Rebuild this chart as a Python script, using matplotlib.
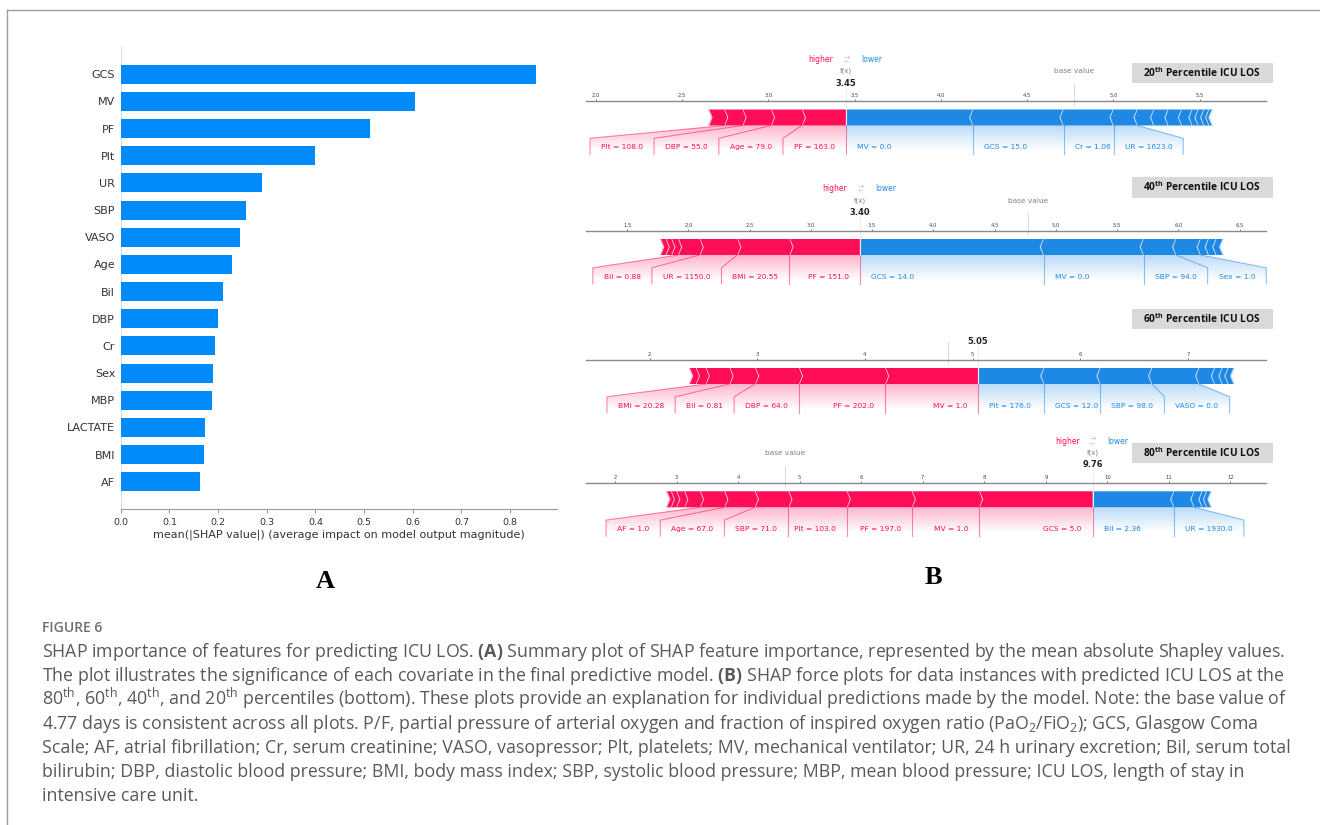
import numpy as np
import matplotlib
matplotlib.use('Agg')
import matplotlib.pyplot as plt
from matplotlib.patches import Polygon, PathPatch, Rectangle
from matplotlib.path import Path
from matplotlib.colors import LinearSegmentedColormap
from matplotlib.lines import Line2D

plt.rcParams['font.family'] = 'DejaVu Sans'
plt.rcParams['mathtext.fontset'] = 'custom'
plt.rcParams['mathtext.rm'] = 'Open Sans'
plt.rcParams['mathtext.bf'] = 'Open Sans:bold'

W, H = 1320, 825

# ---- panel A: mean |SHAP| ----
features = ['GCS', 'MV', 'PF', 'Plt', 'UR', 'SBP', 'VASO', 'Age', 'Bil', 'DBP',
            'Cr', 'Sex', 'MBP', 'LACTATE', 'BMI', 'AF']
mean_abs_shap = [0.853, 0.605, 0.512, 0.399, 0.291, 0.258, 0.246, 0.229, 0.211,
                 0.199, 0.193, 0.189, 0.188, 0.173, 0.171, 0.162]

# ---- panel B: force plots ----
base_value = 4.77
percentiles = ['20', '40', '60', '80']
fx_values = [3.45, 3.40, 5.05, 9.76]

p20_pos = ['PF = 163.0', 'Age = 79.0', 'DBP = 55.0', 'Plt = 108.0', '']
p20_pos_eff = [0.255, 0.179, 0.165, 0.106, 0.091]
p20_neg = ['MV = 0.0', 'GCS = 15.0', 'Cr = 1.06', 'UR = 1623.0', '', '', '', '', '', '', '', '']
p20_neg_eff = [0.738, 0.523, 0.290, 0.139, 0.096, 0.083, 0.078, 0.061, 0.035, 0.033, 0.029, 0.019]

p40_pos = ['PF = 151.0', 'BMI = 20.55', 'UR = 1150.0', 'Bil = 0.88', '', '', '']
p40_pos_eff = [0.575, 0.426, 0.307, 0.176, 0.055, 0.047, 0.044]
p40_neg = ['GCS = 14.0', 'MV = 0.0', 'SBP = 94.0', 'Sex = 1.0', '', '', '']
p40_neg_eff = [1.502, 0.815, 0.265, 0.200, 0.066, 0.062, 0.056]

p60_pos = ['MV = 1.0', 'PF = 202.0', 'DBP = 64.0', 'Bil = 0.81', 'BMI = 20.28', '', '']
p60_pos_eff = [0.862, 0.800, 0.407, 0.238, 0.221, 0.092, 0.062]
p60_neg = ['Plt = 176.0', 'GCS = 12.0', 'SBP = 98.0', 'VASO = 0.0', '', '', '', '']
p60_neg_eff = [0.616, 0.521, 0.480, 0.437, 0.146, 0.070, 0.055, 0.054]

p80_pos = ['GCS = 5.0', 'MV = 1.0', 'PF = 197.0', 'Plt = 103.0', 'SBP = 71.0',
           'Age = 67.0', 'AF = 1.0', '', '', '', '']
p80_pos_eff = [1.844, 1.094, 1.057, 0.947, 0.546, 0.496, 0.395, 0.255, 0.130, 0.088, 0.073]
p80_neg = ['Bil = 2.36', 'UR = 1930.0', '', '', '']
p80_neg_eff = [1.327, 0.327, 0.131, 0.073, 0.073]

force_data = [(p20_pos, p20_pos_eff, p20_neg, p20_neg_eff),
              (p40_pos, p40_pos_eff, p40_neg, p40_neg_eff),
              (p60_pos, p60_pos_eff, p60_neg, p60_neg_eff),
              (p80_pos, p80_pos_eff, p80_neg, p80_neg_eff)]
x_ranges = [(1.944, 5.884), (1.164, 6.715), (1.410, 7.724), (1.529, 12.577)]
axis_tops = [101.5, 231, 360, 483.3]

RED, BLUE = '#FF0D57', '#1E88E5'

fig = plt.figure(figsize=(13.2, 8.25), dpi=100)
renderer = fig.canvas.get_renderer()

# frame
fig.add_artist(Line2D([7 / W, 1], [1 - 10 / H, 1 - 10 / H], color='#9a9a9a', lw=1))
fig.add_artist(Line2D([7 / W, 7 / W], [0, 1 - 10 / H], color='#9a9a9a', lw=1))

# ---- A ----
axA = fig.add_axes([120.7 / W, 1 - 509 / H, 436 / W, 462 / H])
ypos = np.arange(len(features))[::-1]
axA.barh(ypos, mean_abs_shap, 0.7, color='#008bfb', align='center')
axA.set_yticks(ypos, features)
axA.set_ylim(-1, len(features))
axA.axvline(0, color='#dddddd', lw=1, zorder=-1)
for k in ['top', 'right', 'left']:
    axA.spines[k].set_visible(False)
axA.spines['bottom'].set_color('#999999')
axA.tick_params(axis='y', length=0, labelsize=8, labelcolor='#333333', pad=4)
axA.tick_params(axis='x', labelsize=6.8, labelcolor='#333333', color='#999999', length=3)
axA.set_xlabel('mean(|SHAP value|) (average impact on model output magnitude)',
               fontsize=8, color='#333333', labelpad=2)


def force_plot(ax, fx, pos_lab, pos_eff, neg_lab, neg_eff, xr, full_header):
    ax.set_xlim(*xr)
    ax.set_ylim(-0.5, 0.15)
    ax.set_facecolor('none')
    ax.locator_params(axis='x', nbins=12)
    ax.tick_params(top=True, bottom=False, left=False, right=False, labelleft=False,
                   labeltop=True, labelbottom=False, labelsize=3.8, length=1.5,
                   width=0.5, pad=1, colors='#444444')
    for k, sp in ax.spines.items():
        sp.set_visible(k == 'top')
    ax.spines['top'].set_color('#8a8a8a')
    ax.spines['top'].set_linewidth(1)

    px = (xr[1] - xr[0]) / ax.get_window_extent().width   # data units per pixel
    wsep = (xr[1] - xr[0]) / 200
    wb = 0.1
    g = 11 * px
    pad = 1.5 * px

    # base value / output lines
    ax.plot([base_value, base_value], [0.13, 0.26], lw=0.8, color='#dcdcdc', clip_on=False)
    ax.plot([fx, fx], [0, 0.24], lw=0.8, color='#eeeeee', clip_on=False)
    ax.text(fx, 0.265, '{0:.2f}'.format(fx), fontsize=6, fontweight='bold',
            ha='center', va='center', color='#222222')
    if full_header:
        ax.text(base_value, 0.34, 'base value', fontsize=5.3, alpha=0.5, ha='center', va='center')
        ax.text(fx, 0.34, 'f(x)', fontsize=5, alpha=0.5, ha='center', va='center')
        ax.text(fx - 13 * px, 0.413, 'higher', fontsize=5.5, color=RED, ha='right', va='center')
        ax.text(fx + 15 * px, 0.413, 'lower', fontsize=5.5, color=BLUE, ha='left', va='center')
        ax.text(fx, 0.428, r'$\rightarrow$', fontsize=4.3, color=RED, ha='center', va='center')
        ax.text(fx, 0.400, r'$\leftarrow$', fontsize=4.3, color=BLUE, ha='center', va='center')

    for sign, labels, effs, col, sepcol, rgb in [
            (1, pos_lab, pos_eff, RED, '#FFC3D5', (1, 13 / 255, 87 / 255)),
            (-1, neg_lab, neg_eff, BLUE, '#D1E6FA', (30 / 255, 136 / 255, 229 / 255))]:
        vals = fx - sign * np.cumsum(effs)
        ind = sign * wsep
        pre = fx
        for i, v in enumerate(vals):
            left, right = (v, pre) if sign == 1 else (pre, v)
            if i == 0:
                if sign == 1:
                    pts = [[left, 0], [right, 0], [right, wb], [left, wb], [left + ind, wb / 2]]
                else:
                    pts = [[right, 0], [left, 0], [left, wb], [right, wb], [right + ind, wb / 2]]
            else:
                pts = [[left, 0], [right, 0], [right + ind * 0.9, wb / 2], [right, wb],
                       [left, wb], [left + ind * 0.9, wb / 2]]
            ax.add_patch(Polygon(pts, closed=True, facecolor=col, linewidth=0))
            ax.add_patch(Polygon([[v, 0], [v + ind, wb / 2], [v, wb]], closed=False,
                                 fill=False, edgecolor=sepcol, lw=1))
            pre = v

        # labels
        start = fx
        pre = fx
        box_end = fx
        if sign == 1:
            ax.plot([fx, fx], [0, -0.18], lw=0.8, alpha=0.5, color=col, clip_on=False)
        for lab, v in zip(labels, vals):
            if not lab:
                break
            t = ax.text(start - sign * g, -0.147, lab, fontsize=5.4, color=col,
                        ha='right' if sign == 1 else 'left', va='baseline')
            bb = t.get_window_extent(renderer).transformed(ax.transData.inverted())
            edge = bb.x0 - pad if sign == 1 else bb.x1 + pad
            if sign * edge > sign * v:
                ax.plot([v, v], [0, -0.18], lw=0.8, alpha=0.5, color=col, clip_on=False)
                start = v
                box_end = v
            else:
                box_end = edge - sign * (g - pad)
                ax.plot([v, box_end, box_end], [0, -0.08, -0.18], lw=0.8, alpha=0.5,
                        color=col, clip_on=False)
                start = box_end
            pre = v

        path = Path([[fx, 0], [pre, 0], [box_end, -0.08], [box_end, -0.2], [fx, -0.2], [fx, 0]])
        patch = PathPatch(path, facecolor='none', edgecolor='none')
        ax.add_patch(patch)
        cm = LinearSegmentedColormap.from_list('cm', [rgb, (1, 1, 1)])
        _, Z2 = np.meshgrid(np.linspace(0, 10), np.linspace(-10, 10))
        im = ax.imshow(Z2, interpolation='bilinear', cmap=cm, vmax=0.01, alpha=0.3,
                       origin='lower', extent=[fx, box_end, 0, -0.31], aspect='auto')
        im.set_clip_path(patch)
    ax.set_xlim(*xr)
    ax.set_ylim(-0.5, 0.15)


ax_w = 680 / W
for k in range(4):
    top = axis_tops[k]
    ax = fig.add_axes([586 / W, 1 - (top + 104) / H, ax_w, 104 / H])
    pl, pe, nl, ne = force_data[k]
    force_plot(ax, fx_values[k], pl, pe, nl, ne, x_ranges[k], full_header=(k != 2))

# title boxes
title_centers = [73, 187.5, 319, 453]
for k in range(4):
    cy = title_centers[k]
    fig.add_artist(Rectangle(((1202 - 70.5) / W, 1 - (cy + 10) / H), 141 / W, 20 / H,
                             transform=fig.transFigure, facecolor='#d9d9d9', edgecolor='none'))
    fig.text(1202 / W, 1 - cy / H, percentiles[k] + r'$^{\mathbf{th}}$ Percentile ICU LOS',
             fontsize=7.3, fontweight='bold', family='Open Sans', color='#111111',
             ha='center', va='center')

# panel letters
fig.text(325 / W, 1 - 582 / H, 'A', fontsize=19, fontweight='bold',
         family='Liberation Serif', ha='center', va='center')
fig.text(933 / W, 1 - 578 / H, 'B', fontsize=19, fontweight='bold',
         family='Liberation Serif', ha='center', va='center')

# caption
fig.text(42 / W, 1 - 632 / H, 'FIGURE 6', fontsize=10, fontweight='semibold',
         family='Open Sans', color='#6d6e71', va='baseline')
caption = [
    r'SHAP importance of features for predicting ICU LOS. $\mathbf{(A)}$ Summary plot of SHAP feature importance, represented by the mean absolute Shapley values.',
    r'The plot illustrates the significance of each covariate in the final predictive model. $\mathbf{(B)}$ SHAP force plots for data instances with predicted ICU LOS at the',
    r'80$^{\mathrm{th}}$, 60$^{\mathrm{th}}$, 40$^{\mathrm{th}}$, and 20$^{\mathrm{th}}$ percentiles (bottom). These plots provide an explanation for individual predictions made by the model. Note: the base value of',
    r'4.77 days is consistent across all plots. P/F, partial pressure of arterial oxygen and fraction of inspired oxygen ratio (PaO$_2$/FiO$_2$); GCS, Glasgow Coma',
    'Scale; AF, atrial fibrillation; Cr, serum creatinine; VASO, vasopressor; Plt, platelets; MV, mechanical ventilator; UR, 24 h urinary excretion; Bil, serum total',
    'bilirubin; DBP, diastolic blood pressure; BMI, body mass index; SBP, systolic blood pressure; MBP, mean blood pressure; ICU LOS, length of stay in',
    'intensive care unit.',
]
for i, line in enumerate(caption):
    fig.text(42 / W, 1 - (657 + 24 * i) / H, line, fontsize=12.8, family='Open Sans',
             color='#58595b', va='baseline')

fig.savefig('out.png', dpi=100)
